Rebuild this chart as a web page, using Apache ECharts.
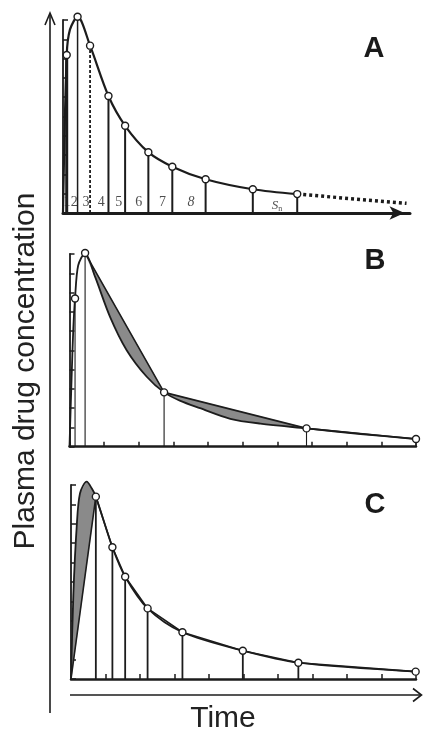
<!DOCTYPE html>
<html><head><meta charset="utf-8">
<script src="https://cdn.jsdelivr.net/npm/echarts@6/dist/echarts.min.js"></script>
<style>html,body{margin:0;padding:0;background:#fff}#c{width:424px;height:730px}</style>
</head><body><div id="c"></div>
<script>
// ---------- Panel A ----------
const aSampleT = [0.107, 0.42, 0.78, 1.31, 1.79, 2.46, 3.15, 4.11, 5.47, 6.75];
const aSampleC = [8.19, 10.17, 8.67, 6.06, 4.52, 3.15, 2.40, 1.75, 1.23, 0.98];
const aCurveT = [0, 0.107, 0.2, 0.42, 0.78, 1.31, 1.79, 2.46, 3.15, 4.11, 5.47, 6.75];
const aCurveC = [0, 8.19, 9.5, 10.17, 8.67, 6.06, 4.52, 3.15, 2.40, 1.75, 1.23, 0.98];
const aTailT = [6.75, 9.9];
const aTailC = [0.98, 0.5];
const aStripLabels = ['1', '2', '3', '4', '5', '6', '7', '8', '', 'S'];

// ---------- Panel B ----------
const bSampleT = [0.16, 0.45, 2.73, 6.84, 10.0];
const bSampleC = [7.69, 10.05, 2.82, 0.95, 0.40];
const bCurveT = [0, 0.06, 0.11, 0.16, 0.25, 0.45, 0.74, 1.17, 1.65, 2.23, 2.73, 3.2, 3.77, 4.64, 5.51, 6.84, 8.4, 10.0];
const bCurveC = [0, 3.54, 6.13, 7.69, 9.4, 10.05, 8.81, 6.74, 5.01, 3.63, 2.82, 2.38, 2.0, 1.45, 1.2, 0.95, 0.66, 0.40];

// ---------- Panel C ----------
const cSampleT = [0.72, 1.20, 1.57, 2.22, 3.23, 4.98, 6.59, 9.99];
const cSampleC = [9.40, 6.79, 5.27, 3.64, 2.41, 1.46, 0.84, 0.38];
const cCurveT = [0, 0.07, 0.165, 0.26, 0.455, 0.6, 0.72, 1.20, 1.57, 2.22, 3.23, 4.98, 6.59, 9.99];
const cCurveC = [0, 4.43, 7.85, 9.57, 10.17, 9.83, 9.40, 6.79, 5.27, 3.64, 2.41, 1.46, 0.84, 0.38];

const panelLetters = ['A', 'B', 'C'];
const yTitle = 'Plasma drug concentration';
const xTitle = 'Time';

const INK = '#1c1c1c';
const GRAY = '#8a8a8a';
function pairs(t, c) { return t.map((v, i) => [v, c[i]]); }

function drops(gi, t, c, widths, dashed) {
  return {
    type: 'custom', xAxisIndex: gi, yAxisIndex: gi, coordinateSystem: 'cartesian2d',
    clip: false, silent: true, z: 2,
    data: t.map((v, i) => [v, c[i], i]),
    renderItem(params, api) {
      const i = api.value(2);
      const p0 = api.coord([api.value(0), 0]);
      const p1 = api.coord([api.value(0), api.value(1)]);
      const st = { stroke: INK, lineWidth: widths[i] != null ? widths[i] : widths[0] };
      if (dashed && dashed[i]) st.lineDash = [3, 2];
      return { type: 'line', shape: { x1: p0[0], y1: p0[1], x2: p1[0], y2: p1[1] }, style: st };
    }
  };
}
function fills(gi, polys) {
  return {
    type: 'custom', xAxisIndex: gi, yAxisIndex: gi, coordinateSystem: 'cartesian2d',
    clip: false, silent: true, z: 1, data: [[0, 0]],
    renderItem(params, api) {
      return {
        type: 'group',
        children: polys.map(pts => ({
          type: 'polygon', shape: { points: pts.map(p => api.coord(p)) },
          style: { fill: GRAY, stroke: GRAY, lineWidth: 0.5 }
        }))
      };
    }
  };
}
function line(gi, pts, smooth, extra) {
  return Object.assign({
    type: 'line', xAxisIndex: gi, yAxisIndex: gi, data: pts,
    smooth: smooth ? 0.3 : false, symbol: 'none', showSymbol: false,
    clip: false, silent: true, lineStyle: { color: INK, width: 2 }, z: 3
  }, extra || {});
}
function samples(gi, pts, size) {
  return {
    type: 'scatter', xAxisIndex: gi, yAxisIndex: gi, data: pts, symbol: 'circle',
    symbolSize: size || 7, itemStyle: { color: '#fff', borderColor: INK, borderWidth: 1.4, opacity: 1 },
    z: 5, silent: true, clip: false
  };
}
// polygon = curve points between two chord vertices (closing edge is the chord)
function between(t, c, t0, t1) {
  const out = [];
  t.forEach((v, i) => { if (v >= t0 - 1e-9 && v <= t1 + 1e-9) out.push([v, c[i]]); });
  return out;
}

// strip labels for panel A placed midway between sampling lines
const aBounds = [0].concat(aSampleT);
const stripData = [];
aStripLabels.forEach((s, i) => {
  if (!s) return;
  stripData.push({ name: s, value: [(aBounds[i] + aBounds[i + 1]) / 2 + 0.06, s === 'S' ? 0.4 : 0.55] });
});

const bChordT = bSampleT.slice(1), bChordC = bSampleC.slice(1);

const xBase = { type: 'value', min: 0, max: 10, interval: 1, axisLabel: { show: false }, splitLine: { show: false } };
const yBase = {
  type: 'value', min: 0, max: 10, interval: 1, axisLabel: { show: false }, splitLine: { show: false },
  axisLine: { show: true, lineStyle: { color: INK, width: 1.8 } },
  axisTick: { show: true, inside: true, length: 5, lineStyle: { color: INK, width: 1.5 } }
};

const option = {
  backgroundColor: '#fff',
  animation: false,
  grid: [
    { left: 63, top: 20, width: 347, height: 193 },
    { left: 69.5, top: 254, width: 346.5, height: 192.7 },
    { left: 71, top: 485, width: 345, height: 194 }
  ],
  xAxis: [
    Object.assign({}, xBase, { gridIndex: 0,
      axisLine: { show: true, lineStyle: { color: INK, width: 3 }, symbol: ['none', 'arrow'], symbolSize: [10, 15], symbolOffset: [0, -5.5] },
      axisTick: { show: false } }),
    Object.assign({}, xBase, { gridIndex: 1,
      axisLine: { show: true, lineStyle: { color: INK, width: 2.5 } },
      axisTick: { show: true, inside: true, length: 5, lineStyle: { color: INK, width: 1.5 } } }),
    Object.assign({}, xBase, { gridIndex: 2,
      axisLine: { show: true, lineStyle: { color: INK, width: 2.5 } },
      axisTick: { show: true, inside: true, length: 5, lineStyle: { color: INK, width: 1.5 } } })
  ],
  yAxis: [
    Object.assign({}, yBase, { gridIndex: 0 }),
    Object.assign({}, yBase, { gridIndex: 1 }),
    Object.assign({}, yBase, { gridIndex: 2 })
  ],
  series: [
    // Panel A
    drops(0, aSampleT, aSampleC, [3, 1.5, 1.8, 2, 2, 2, 2, 2, 2, 2], [false, false, true]),
    line(0, pairs(aCurveT, aCurveC), true, { lineStyle: { color: INK, width: 2.2 } }),
    line(0, pairs(aTailT, aTailC), false, { lineStyle: { color: INK, width: 3.5, type: [3, 3] } }),
    samples(0, pairs(aSampleT, aSampleC)),
    {
      type: 'scatter', xAxisIndex: 0, yAxisIndex: 0, data: stripData, symbolSize: 0, silent: true, z: 6,
      label: {
        show: true, position: 'inside', color: '#222', fontFamily: '"Liberation Serif", "DejaVu Serif", serif', fontSize: 14,
        formatter: p => p.name === 'S' ? '{s|S}{n|n}' : (p.name === '8' ? '{i|8}' : p.name),
        rich: {
          s: { fontStyle: 'italic', fontSize: 13, fontFamily: '"Liberation Serif", serif', color: '#222' },
          n: { fontSize: 8, fontFamily: '"Liberation Serif", serif', color: '#222', padding: [7, 0, 0, 0] },
          i: { fontStyle: 'italic', fontSize: 14, fontFamily: '"Liberation Serif", serif', color: '#222' }
        }
      }
    },
    // Panel B
    fills(1, [between(bCurveT, bCurveC, bChordT[0], bChordT[1]), between(bCurveT, bCurveC, bChordT[1], bChordT[2])]),
    drops(1, bSampleT, bSampleC, [1.1]),
    line(1, pairs(bCurveT, bCurveC), true, { lineStyle: { color: INK, width: 1.8 } }),
    line(1, pairs(bChordT, bChordC), false, { lineStyle: { color: INK, width: 1.6 } }),
    samples(1, pairs(bSampleT, bSampleC)),
    // Panel C
    fills(2, [between(cCurveT, cCurveC, 0, cSampleT[0])]),
    drops(2, cSampleT.slice(0, -1), cSampleC.slice(0, -1), [1.8]),
    line(2, pairs(cCurveT, cCurveC), true, { lineStyle: { color: INK, width: 1.8 } }),
    line(2, [[0, 0]].concat(pairs(cSampleT, cSampleC)), false, { lineStyle: { color: INK, width: 1.6 } }),
    samples(2, pairs(cSampleT, cSampleC))
  ],
  graphic: [
    { type: 'line', shape: { x1: 50, y1: 713, x2: 50, y2: 14 }, style: { stroke: INK, lineWidth: 1.6 } },
    { type: 'polyline', shape: { points: [[45, 25], [50, 13], [55, 25]] }, style: { stroke: INK, lineWidth: 1.6, fill: null } },
    { type: 'line', shape: { x1: 70, y1: 695, x2: 421, y2: 695 }, style: { stroke: INK, lineWidth: 1.6 } },
    { type: 'polyline', shape: { points: [[413, 688.5], [421.5, 695], [413, 701.5]] }, style: { stroke: INK, lineWidth: 1.6, fill: null } },
    { type: 'text', x: 26, y: 371, rotation: Math.PI / 2,
      style: { text: yTitle, font: '30px "Liberation Sans", Arial, sans-serif', fill: '#222', align: 'center', verticalAlign: 'middle' } },
    { type: 'text', x: 223, y: 719,
      style: { text: xTitle, font: '30px "Liberation Sans", Arial, sans-serif', fill: '#222', align: 'center', verticalAlign: 'middle' } },
    { type: 'text', x: 374, y: 49, style: { text: panelLetters[0], font: 'bold 29px "Liberation Sans", Arial, sans-serif', fill: '#1a1a1a', align: 'center', verticalAlign: 'middle' } },
    { type: 'text', x: 375, y: 261, style: { text: panelLetters[1], font: 'bold 29px "Liberation Sans", Arial, sans-serif', fill: '#1a1a1a', align: 'center', verticalAlign: 'middle' } },
    { type: 'text', x: 375, y: 505, style: { text: panelLetters[2], font: 'bold 29px "Liberation Sans", Arial, sans-serif', fill: '#1a1a1a', align: 'center', verticalAlign: 'middle' } }
  ]
};
const chart = echarts.init(document.getElementById('c'), null, { renderer: 'canvas' });
chart.setOption(option);
</script>
</body></html>
